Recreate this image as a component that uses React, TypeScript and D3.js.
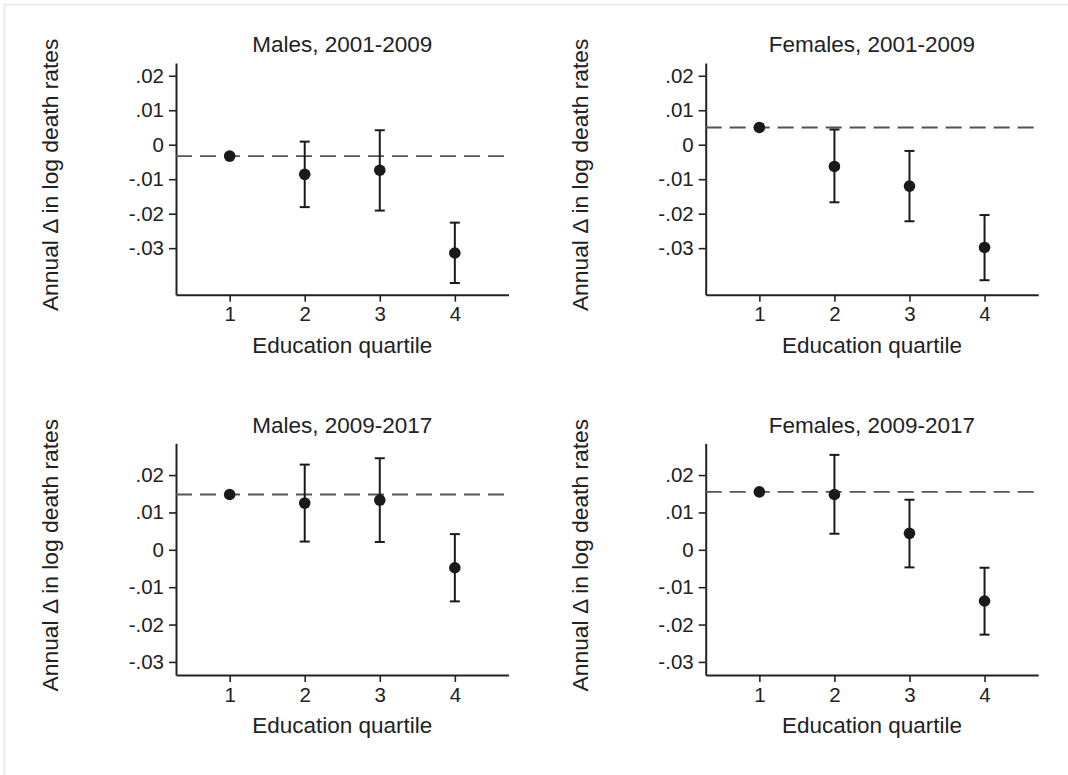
import React, { useEffect, useRef } from "react";
import * as d3 from "d3";

// education quartiles on the x axis
const quartiles = [1, 2, 3, 4];
const yTicks = [0.02, 0.01, 0, -0.01, -0.02, -0.03];

const panelTitles = [
  "Males, 2001-2009",
  "Females, 2001-2009",
  "Males, 2009-2017",
  "Females, 2009-2017",
];

// point estimates (quartile 1 is the reference, drawn as the dashed line)
const males0109Est = [-0.0033, -0.0086, -0.0074, -0.0314];
const males0109Lo = [null, -0.0181, -0.0191, -0.0401];
const males0109Hi = [null, 0.0009, 0.0042, -0.0226];

const females0109Est = [0.005, -0.0063, -0.012, -0.0298];
const females0109Lo = [null, -0.0167, -0.0222, -0.0393];
const females0109Hi = [null, 0.0044, -0.0018, -0.0204];

const males0917Est = [0.0148, 0.0125, 0.0133, -0.0048];
const males0917Lo = [null, 0.0022, 0.0021, -0.0138];
const males0917Hi = [null, 0.0228, 0.0245, 0.0042];

const females0917Est = [0.0155, 0.0148, 0.0044, -0.0137];
const females0917Lo = [null, 0.0043, -0.0047, -0.0227];
const females0917Hi = [null, 0.0254, 0.0134, -0.0048];

const font = "'Liberation Sans', Arial, Helvetica, sans-serif";
const ink = "#222";

const App = () => {
  const chart = useRef<SVGSVGElement>(null);

  useEffect(() => {
    const panels = [
      { est: males0109Est, lo: males0109Lo, hi: males0109Hi, left: 176, top: 63, yDomain: [-0.0435, 0.0237] },
      { est: females0109Est, lo: females0109Lo, hi: females0109Hi, left: 705.7, top: 63, yDomain: [-0.0435, 0.0237] },
      { est: males0917Est, lo: males0917Lo, hi: males0917Hi, left: 176, top: 443.3, yDomain: [-0.0335, 0.0285] },
      { est: females0917Est, lo: females0917Lo, hi: females0917Hi, left: 705.7, top: 443.3, yDomain: [-0.0335, 0.0285] },
    ];
    const width = 332.5;
    const height = 231.7;

    const svg = d3.select(chart.current);
    svg.selectAll("*").remove();

    // faint frame on top and left
    svg.append("line").attr("x1", 4).attr("x2", 1068).attr("y1", 4.5).attr("y2", 4.5)
      .attr("stroke", "#ececec").attr("stroke-width", 2);
    svg.append("line").attr("x1", 4.5).attr("x2", 4.5).attr("y1", 4).attr("y2", 775)
      .attr("stroke", "#ececec").attr("stroke-width", 2);

    // Stata style: ".02", "0", "-.01" with a plain hyphen
    const fmt = (d) => (d === 0 ? "0" : d.toFixed(2).replace("0.", "."));

    panels.forEach((p, i) => {
      const x = d3.scaleLinear().domain([0.285, 4.715]).range([0, width]);
      const y = d3.scaleLinear().domain(p.yDomain).range([height, 0]);

      const g = svg.append("g").attr("transform", `translate(${p.left}, ${p.top})`);

      // axes
      const yAxis = g.append("g")
        .call(d3.axisLeft(y).tickValues(yTicks).tickFormat(fmt).tickSize(7).tickSizeOuter(0).tickPadding(5));
      const xAxis = g.append("g")
        .attr("transform", `translate(0, ${height})`)
        .call(d3.axisBottom(x).tickValues(quartiles).tickFormat(d3.format("d")).tickSize(7).tickSizeOuter(0).tickPadding(5));
      [yAxis, xAxis].forEach((a) => {
        a.select(".domain").attr("stroke", ink).attr("stroke-width", 2);
        a.selectAll(".tick line").attr("stroke", ink).attr("stroke-width", 1.6);
        a.selectAll(".tick text").attr("fill", ink).attr("font-family", font).attr("font-size", 20.5);
      });

      // reference line at quartile 1
      g.append("line")
        .attr("x1", 0).attr("x2", width)
        .attr("y1", y(p.est[0])).attr("y2", y(p.est[0]))
        .attr("stroke", "#555").attr("stroke-width", 1.8)
        .attr("stroke-dasharray", "16 8");

      // error bars
      const bars = quartiles.map((q, k) => ({ q, lo: p.lo[k], hi: p.hi[k] })).filter((d) => d.lo !== null);
      const bar = g.append("g").attr("stroke", "#1a1a1a").attr("stroke-width", 2);
      bars.forEach((d) => {
        bar.append("line").attr("x1", x(d.q)).attr("x2", x(d.q)).attr("y1", y(d.lo)).attr("y2", y(d.hi));
        bar.append("line").attr("x1", x(d.q) - 5).attr("x2", x(d.q) + 5).attr("y1", y(d.lo)).attr("y2", y(d.lo));
        bar.append("line").attr("x1", x(d.q) - 5).attr("x2", x(d.q) + 5).attr("y1", y(d.hi)).attr("y2", y(d.hi));
      });

      // point estimates
      g.append("g")
        .selectAll("circle")
        .data(p.est)
        .join("circle")
        .attr("cx", (d, k) => x(quartiles[k]))
        .attr("cy", (d) => y(d))
        .attr("r", 5.8)
        .attr("fill", "#1a1a1a");

      // titles
      g.append("text")
        .attr("x", width / 2)
        .attr("y", -10.7)
        .attr("text-anchor", "middle")
        .attr("font-family", font).attr("font-size", 22.5).attr("fill", ink)
        .text(panelTitles[i]);

      g.append("text")
        .attr("x", width / 2)
        .attr("y", height + 58)
        .attr("text-anchor", "middle")
        .attr("font-family", font).attr("font-size", 22.5).attr("fill", ink)
        .text("Education quartile");

      g.append("text")
        .attr("transform", `translate(-118, ${height / 2 - 4}) rotate(-90)`)
        .attr("text-anchor", "middle")
        .attr("font-family", font).attr("font-size", 22.8).attr("fill", ink)
        .text("Annual Δ in log death rates");
    });
  });

  return (
    <div>
      <svg
        ref={chart}
        width={1068}
        height={775}
        style={{ position: "absolute", left: 0, top: 0, background: "#fff" }}
      ></svg>
    </div>
  );
};

export default App;
